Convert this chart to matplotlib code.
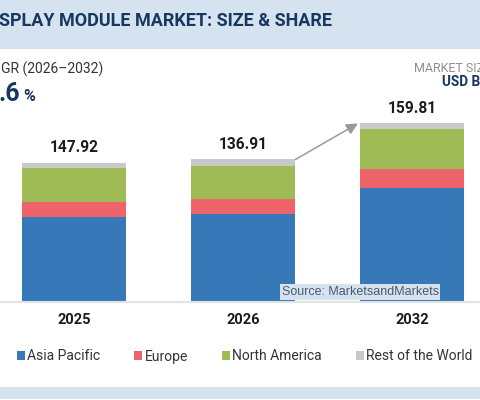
import matplotlib
matplotlib.use("Agg")
import matplotlib.pyplot as plt
from matplotlib.patches import Rectangle

plt.rcParams['font.family'] = ['Roboto', 'DejaVu Sans']

years = ['2025', '2026', '2032']
totals = ['147.92', '136.91', '159.81']
regions = ['Asia Pacific', 'Europe', 'North America', 'Rest of the World']
# segment heights, the drawn bars are not to scale with the totals
asia_pacific = [85.5, 88, 114]
europe = [15, 15, 19]
north_america = [33.5, 33.5, 40]
rest_of_world = [5.5, 6.5, 6]
series = [asia_pacific, europe, north_america, rest_of_world]
colors = ['#3779b8', '#ef636b', '#9fbb55', '#c9c9c9']

W, H = 480, 400
BASE = 302  # pixel row of the bar baseline
NAVY = '#17375e'
BAND = '#d5e3f0'

fig = plt.figure(figsize=(W / 100, H / 100), dpi=100)

# header and footer bands
fig.add_artist(Rectangle((0, 1 - 48.5 / H), 1, 48.5 / H, transform=fig.transFigure, color=BAND, lw=0))
fig.add_artist(Rectangle((0, 1 / H), 1, 12 / H, transform=fig.transFigure, color=BAND, lw=0))

# axes run from the baseline to the top of the figure, 1 unit = 1 px in y
ax = fig.add_axes([0, 1 - BASE / H, 1, BASE / H])
ax.set_xlim(-74 / 169, (W - 74) / 169)
ax.set_ylim(0, BASE)
ax.patch.set_alpha(0)

bottoms = [0, 0, 0]
handles = []
for name, values, color in zip(regions, series, colors):
    bars = ax.bar(range(3), values, width=104 / 169, bottom=bottoms, color=color, label=name)
    handles.append(bars)
    bottoms = [b + v for b, v in zip(bottoms, values)]

for i, total in enumerate(totals):
    ax.text(i, bottoms[i] + 7, total, ha='center', va='bottom', fontsize=11.2, fontweight='bold', color='#1c1c1c')

ax.annotate('', xy=(1.68, bottoms[2] - 0.5), xytext=(1.31, bottoms[1] - 0.5),
            arrowprops=dict(arrowstyle='-|>', color='#9a9a9a', lw=1.1, mutation_scale=17, shrinkA=0, shrinkB=0))

for s in ['top', 'left', 'right']:
    ax.spines[s].set_visible(False)
ax.spines['bottom'].set_color('#e3e3e3')
ax.spines['bottom'].set_linewidth(1.5)
ax.set_yticks([])
ax.set_xticks(range(3))
ax.set_xticklabels(years, fontsize=10.5, fontweight='bold', color='#1c1c1c')
ax.tick_params(axis='x', length=0, pad=8)

fig.legend(handles=handles, labels=regions, ncol=4, loc='center left', frameon=False,
           bbox_to_anchor=(17 / W, 1 - 356.5 / H), fontsize=10, labelcolor='#333333',
           handlelength=0.54, handleheight=0.54, handletextpad=0.2, columnspacing=2.45, borderpad=0, borderaxespad=0)

# text clipped at the figure edges in the reference
fig.text(-1 / W, 1 - 20.5 / H, 'SPLAY MODULE MARKET: SIZE & SHARE', fontsize=13, fontweight='bold',
         color=NAVY, va='center', ha='left')
fig.text(1 / W, 1 - 69 / H, 'GR (2026–2032)', fontsize=10, color='#333333', va='center', ha='left')
fig.text(-1 / W, 1 - 101.5 / H, '.6', fontsize=18, fontweight='bold', color=NAVY, va='baseline', ha='left')
fig.text(23 / W, 1 - 101.5 / H, '%', fontsize=11.5, fontweight='bold', color=NAVY, va='baseline', ha='left')
fig.text(414 / W, 1 - 68 / H, 'MARKET SIZE', fontsize=9, color='#8f8f8f', va='center', ha='left')
fig.text(442 / W, 1 - 82 / H, 'USD BN', fontsize=9.8, fontweight='bold', color=NAVY, va='center', ha='left')

fig.text(281.5 / W, 1 - 292 / H, 'Source: MarketsandMarkets', fontsize=9, family='Liberation Sans',
         color='#4a5a70', va='center', ha='left',
         bbox=dict(facecolor=BAND, edgecolor='none', pad=1.2))

fig.savefig('out.png', dpi=100)
